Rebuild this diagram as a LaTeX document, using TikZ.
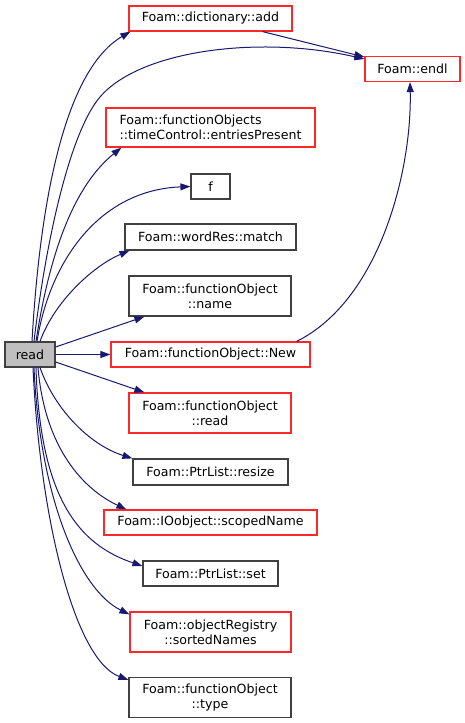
\documentclass[tikz,border=0pt]{standalone}
\usepackage{fontspec}
\setmainfont{DejaVu Sans}
\usetikzlibrary{arrows.meta}
\definecolor{edgeblue}{RGB}{25,25,112}
\definecolor{nodegray}{RGB}{191,191,191}
\definecolor{borderdark}{RGB}{64,64,64}
\definecolor{borderred}{RGB}{255,40,40}
\begin{document}
\begin{tikzpicture}[x=1pt,y=-1pt,
  box/.style={draw=borderdark,line width=1.2pt,fill=white,rectangle,inner sep=0pt,
    font=\fontsize{12.6}{15}\selectfont,align=center,text=black},
  redbox/.style={box,draw=borderred},
  mainbox/.style={box,fill=nodegray},
  edge/.style={draw=edgeblue,line width=1pt,-{Triangle[length=10pt,width=7pt]}}]
\useasboundingbox (0,0) rectangle (465,723);
% nodes
\node[mainbox,minimum width=50pt,minimum height=25pt] (read) at (30,354.5) {read};
\node[redbox,minimum width=163pt,minimum height=25pt] (add) at (210.5,18.5) {Foam::dictionary::add};
\node[redbox,minimum width=95pt,minimum height=25pt] (endl) at (412.5,69) {Foam::endl};
\node[redbox,minimum width=209pt,minimum height=39pt,align=left] (entries) at (210.5,127.5) {Foam::functionObjects\\::timeControl::entriesPresent};
\node[box,minimum width=39pt,minimum height=25pt] (f) at (210.5,186.5) {f};
\node[box,minimum width=171pt,minimum height=26pt] (match) at (210.5,237) {Foam::wordRes::match};
\node[box,minimum width=162pt,minimum height=40pt] (name) at (210,296) {Foam::functionObject\\::name};
\node[redbox,minimum width=199pt,minimum height=25pt] (New) at (210.5,354.5) {Foam::functionObject::New};
\node[redbox,minimum width=162pt,minimum height=40pt] (foread) at (210,413) {Foam::functionObject\\::read};
\node[box,minimum width=155pt,minimum height=26pt] (resize) at (210.5,472) {Foam::PtrList::resize};
\node[redbox,minimum width=213pt,minimum height=25pt] (scoped) at (210.5,522.5) {Foam::IOobject::scopedName};
\node[box,minimum width=135pt,minimum height=25pt] (set) at (210.5,573.5) {Foam::PtrList::set};
\node[redbox,minimum width=161pt,minimum height=40pt] (sorted) at (210.5,632) {Foam::objectRegistry\\::sortedNames};
\node[box,minimum width=162pt,minimum height=40pt] (type) at (210,697.5) {Foam::functionObject\\::type};
% edges
\draw[edge] ([xshift=2pt]read.north) .. controls (40,200) and (65,70) .. ([xshift=2pt]add.south west);
\draw[edge] ([xshift=4pt]read.north) .. controls (46,240) and (70,132) .. (100,97)
   .. controls (140,50) and (260,35) .. ([yshift=10pt]endl.west);
\draw[edge] ([xshift=6pt]read.north) .. controls (50,250) and (75,185) .. ([xshift=16pt]entries.south west);
\draw[edge] ([xshift=7pt]read.north) .. controls (50,260) and (100,190) .. (f.west);
\draw[edge] ([xshift=10pt]read.north) .. controls (55,300) and (95,265) .. ([xshift=5pt]match.south west);
\draw[edge] ([yshift=7.5pt]read.east) -- ([xshift=16pt]name.south west);
\draw[edge] (read.east) -- (New.west);
\draw[edge] ([yshift=-7.5pt]read.east) -- ([xshift=16pt]foread.north west);
\draw[edge] ([xshift=10pt]read.south) .. controls (55,410) and (90,445) .. (resize.north west);
\draw[edge] ([xshift=8pt]read.south) .. controls (45,450) and (85,490) .. ([xshift=23pt]scoped.north west);
\draw[edge] ([xshift=6pt]read.south) .. controls (40,500) and (80,545) .. ([yshift=7.5pt]set.west);
\draw[edge] ([xshift=4pt]read.south) .. controls (40,500) and (80,590) .. ([yshift=-3pt]sorted.north west);
\draw[edge] ([xshift=3pt]read.south) .. controls (40,520) and (75,660) .. ([yshift=-3pt]type.north west);
\draw[edge] ([xshift=-30pt]add.south east) -- ([yshift=12pt]endl.west);
\draw[edge] ([xshift=-14pt]New.north east) .. controls (380,300) and (412,170) .. ([xshift=-2.5pt]endl.south);
\end{tikzpicture}
\end{document}
